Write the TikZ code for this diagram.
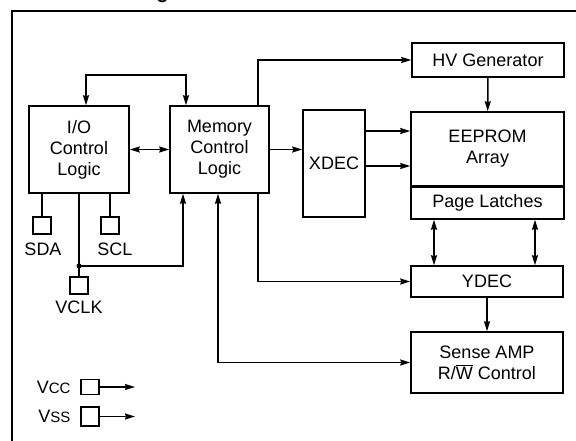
\documentclass[tikz,border=0pt]{standalone}
\usepackage{fontspec}
\setmainfont{Liberation Sans}
\usetikzlibrary{arrows.meta,positioning}

\begin{document}
\begin{tikzpicture}[x=1pt,y=-1pt,>={Stealth[length=10pt,width=6pt,inset=1pt]},
line width=1.5pt,
block/.style={draw,align=center,inner sep=0pt,font=\fontsize{18}{21}\selectfont},
pin/.style={draw,inner sep=0pt,minimum width=18pt,minimum height=17pt},
pinlabel/.style={inner sep=0pt,font=\fontsize{18}{21}\selectfont}]
\useasboundingbox (0,0) rectangle (576,440);
% heading and frame (cut off by the page)
\begin{scope}
\clip (0,0) rectangle (576,440);
\node[anchor=base east,inner sep=0pt,font=\fontsize{20}{24}\selectfont\bfseries] (title) at (186,-2) {Block Logic};
\end{scope}
\draw (12,470) -- (12,11) -- (600,11);
% blocks
\node[block,minimum width=100pt,minimum height=87pt] (io) at (79,149.5) {I/O\\Control\\Logic};
\node[block,minimum width=99pt,minimum height=87pt] (mcl) at (219.5,149.5) {Memory\\Control\\Logic};
\node[block,minimum width=152pt,minimum height=34pt] (hv) at (488,60) {HV Generator};
\node[block,minimum width=62pt,minimum height=107pt] (xdec) at (334,163.5) {XDEC};
\node[block,minimum width=153pt,minimum height=74pt] (eeprom) at (487.5,149) {EEPROM\\Array};
\node[block,minimum width=153pt,minimum height=33pt] (latch) at (487.5,202.5) {Page Latches};
\node[block,minimum width=152pt,minimum height=31pt] (ydec) at (487,281.5) {YDEC};
\node[block,minimum width=152pt,minimum height=61pt] (sense) at (487,362.5) {Sense AMP\\R/$\overline{\mbox{W}}$ Control};
% pins
\node[pin] (sda) at (42,225.5) {};
\node[pin] (scl) at (110,225.5) {};
\node[pin] (vclk) at (79,285.5) {};
\node[pin,minimum height=15pt] (vcc) at (90,387) {};
\node[pin,minimum height=19pt] (vss) at (90,416.5) {};
\node[pinlabel] (sdalbl) at (43,249) {SDA};
\node[pinlabel] (scllbl) at (115,249) {SCL};
\node[pinlabel] (vclklbl) at (79,307) {VCLK};
\node[pinlabel,left=9pt of vcc] (vcclbl) {V{\fontsize{15}{18}\selectfont CC}};
\node[pinlabel,left=9pt of vss] (vsslbl) {V{\fontsize{15}{18}\selectfont SS}};
\coordinate (vccout) at (135,387);
\coordinate (vssout) at (135,416.5);
\coordinate (j) at (79,266);
% connections
\draw[<->] (io) -- (mcl);
\draw[<->] (io.north -| 86,0) |- (186,75) -- (mcl.north -| 186,0);
\draw[->] (mcl.north -| 258,0) |- (hv.west);
\draw[->] (mcl.east) -- (mcl.east -| xdec.west);
\draw[->] (xdec.east |- 0,131) -- (eeprom.west |- 0,131);
\draw[->] (xdec.east |- 0,166) -- (eeprom.west |- 0,166);
\draw[->] (hv) -- (eeprom);
\draw (eeprom.south west) -- (eeprom.south east);
\draw[<->] (latch.south -| 434,0) -- (ydec.north -| 434,0);
\draw[<->] (latch.south -| 535,0) -- (ydec.north -| 535,0);
\draw[->] (ydec) -- (sense);
\draw[->] (mcl.south -| 258,0) |- (ydec.west);
\draw[<->] (mcl.south -| 218,0) |- (sense.west);
\draw (io.south -| sda) -- (sda);
\draw (io.south -| scl) -- (scl);
\draw (io.south -| vclk) -- (vclk);
\fill (j) circle (2.5);
\draw[->] (j) -| (mcl.south -| 183,0);
\draw[->] (vcc) -- (vccout);
\draw[->] (vss) -- (vssout);
\end{tikzpicture}
\end{document}
